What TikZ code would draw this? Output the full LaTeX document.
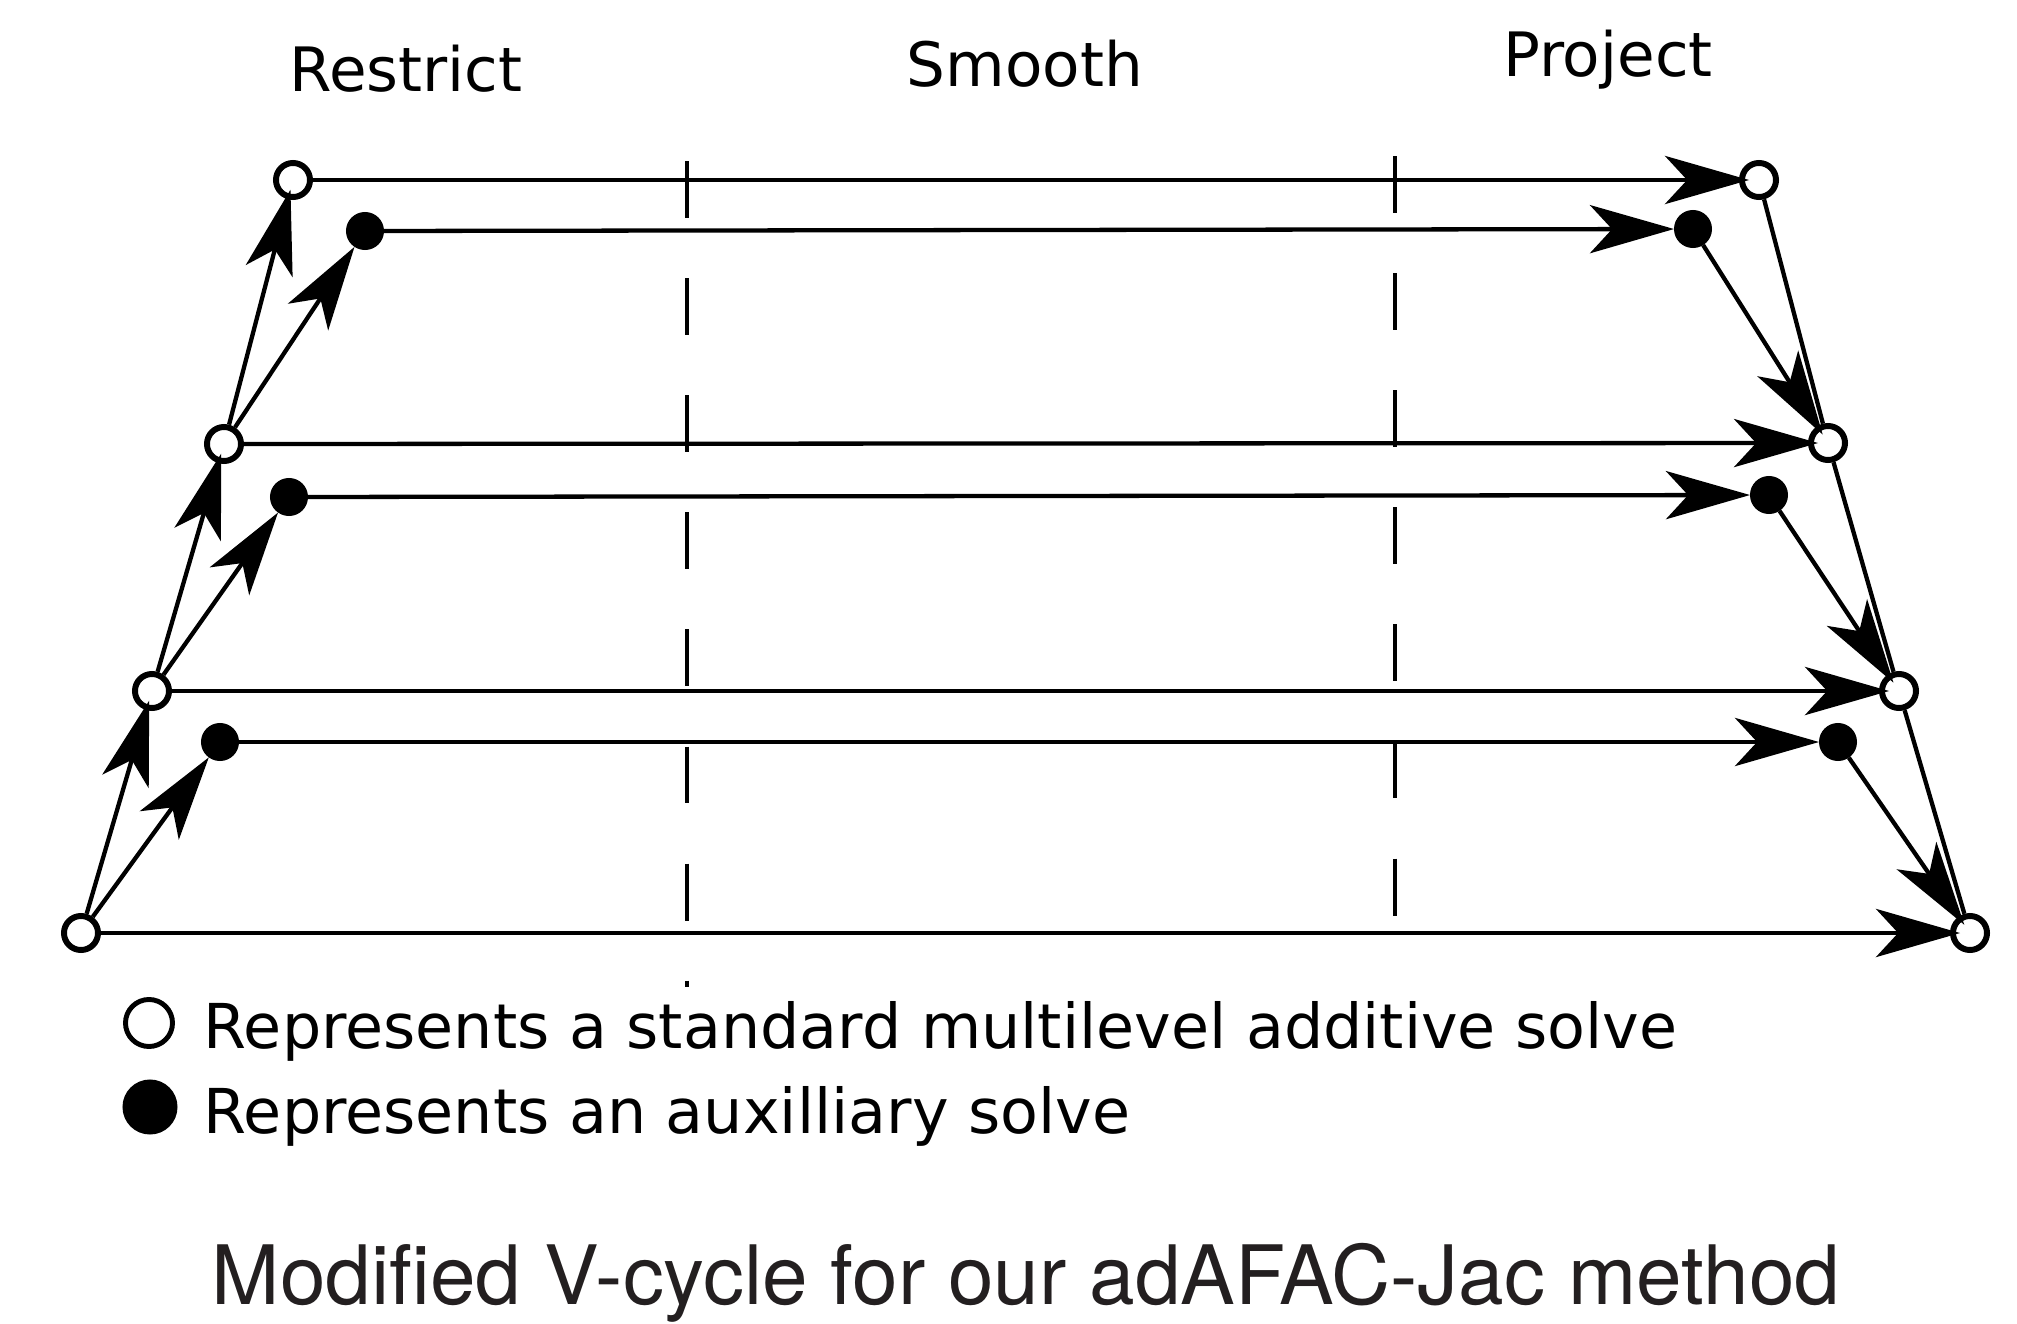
\documentclass[tikz,border=0pt]{standalone}
\usepackage{fontspec}
\setmainfont{DejaVu Sans}
\newfontfamily\titlefont{TeX Gyre Heros}
\usepackage{tikz}
\usetikzlibrary{arrows.meta}
\definecolor{titlegray}{HTML}{231F20}

\begin{document}
\begin{tikzpicture}[
        x=0.01cm, y=-0.01cm,
        std/.style={draw, circle, fill=white, line width=1.7pt, minimum size=0.34cm, inner sep=0pt},
        aux/.style={circle, fill=black, minimum size=0.38cm, inner sep=0pt, outer sep=0pt},
        phase/.style={anchor=base, inner sep=0pt, font=\fontsize{17.4pt}{20pt}\selectfont},
        key/.style={anchor=base west, inner sep=0pt, font=\fontsize{17.6pt}{21pt}\selectfont},
        line/.style={line width=1.22pt},
        flow/.style={line, -{Stealth[length=23.9pt, width=13.7pt, inset=6.3pt]}},
        tostd/.style={flow, shorten >=-2.85pt},
        split/.style={line, dash pattern=on 16.2pt off 17.1pt}
    ]
        \useasboundingbox (0,0) rectangle (2017,1324);

        \node[phase] (restrict) at (406,91) {Restrict};
        \node[phase] (smooth) at (1025,86) {Smooth};
        \node[phase] (project) at (1608,77) {Project};

        \draw[split] (687,161) -- (687,987);
        \draw[split] (1395,156) -- (1395,918);

        \node[std] (ls0) at (81,933) {};
        \node[std] (ls1) at (152,691) {};
        \node[std] (ls2) at (224,444) {};
        \node[std] (ls3) at (293,180) {};
        \node[aux] (la1) at (220,742) {};
        \node[aux] (la2) at (289,497) {};
        \node[aux] (la3) at (365,231) {};
        \node[std] (rs0) at (1970,933) {};
        \node[std] (rs1) at (1899,691) {};
        \node[std] (rs2) at (1828,443) {};
        \node[std] (rs3) at (1759,180) {};
        \node[aux] (ra1) at (1838,742) {};
        \node[aux] (ra2) at (1769,495) {};
        \node[aux] (ra3) at (1693,229) {};

        \draw[tostd] (ls0) -- (ls1);
        \draw[tostd] (ls1) -- (ls2);
        \draw[tostd] (ls2) -- (ls3);
        \draw[flow] (ls0) -- (la1);
        \draw[flow] (ls1) -- (la2);
        \draw[flow] (ls2) -- (la3);

        \draw[tostd] (ls0) -- (rs0);
        \draw[tostd] (ls1) -- (rs1);
        \draw[tostd] (ls2) -- (rs2);
        \draw[tostd] (ls3) -- (rs3);
        \draw[flow] (la1) -- (ra1);
        \draw[flow] (la2) -- (ra2);
        \draw[flow] (la3) -- (ra3);

        \draw[line] (rs3) -- (rs2);
        \draw[line] (rs2) -- (rs1);
        \draw[line] (rs1) -- (rs0);
        \draw[tostd] (ra3) -- (rs2);
        \draw[tostd] (ra2) -- (rs1);
        \draw[tostd] (ra1) -- (rs0);

        \node[std, line width=1.4pt, minimum size=0.47cm] (keystd) at (149,1023) {};
        \node[aux, minimum size=0.55cm] (keyaux) at (150,1107) {};
        \node[key] (keystdtext) at (203,1048) {Represents a standard multilevel additive solve};
        \node[key] (keyauxtext) at (203,1133) {Represents an auxilliary solve};

        \node[anchor=base, inner sep=0pt, text=titlegray, font=\titlefont\fontsize{23.3pt}{28pt}\selectfont] (title) at (1026,1304) {Modified V-cycle for our adAFAC-Jac method};
    \end{tikzpicture}
\end{document}
